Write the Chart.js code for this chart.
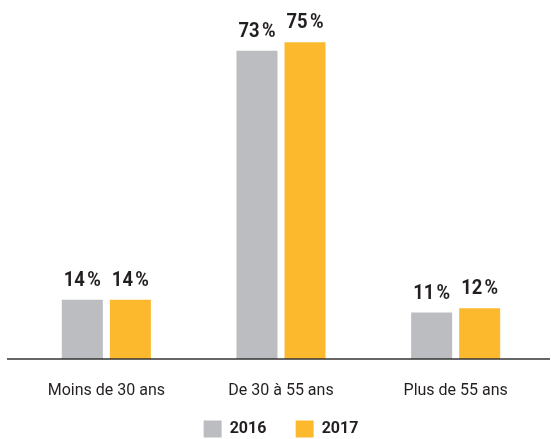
<!DOCTYPE html>
<html>
<head>
<meta charset="utf-8">
<script src="https://cdn.jsdelivr.net/npm/chart.js@4/dist/chart.umd.min.js"></script>
<style>
  html, body { margin: 0; padding: 0; background: #fff; }
  #wrap { width: 551px; height: 439px; }
</style>
</head>
<body>
<div id="wrap"><canvas id="chart" width="551" height="439"></canvas></div>
<script>
  const categories = ['Moins de 30 ans', 'De 30 à 55 ans', 'Plus de 55 ans'];
  const values2016 = [14, 73, 11];
  const values2017 = [14, 75, 12];
  const seriesNames = ['2016', '2017'];

  const textColor = '#231f20';

  // labels "xx %" above each bar
  const barLabels = {
    id: 'barLabels',
    afterDatasetsDraw(chart) {
      const ctx = chart.ctx;
      ctx.save();
      ctx.fillStyle = textColor;
      ctx.font = 'bold 20px Roboto';
      ctx.textAlign = 'center';
      ctx.textBaseline = 'alphabetic';
      chart.data.datasets.forEach((ds, i) => {
        chart.getDatasetMeta(i).data.forEach((bar, j) => {
          ctx.save();
          ctx.translate(bar.x, bar.y - 14);
          ctx.scale(0.92, 1);
          ctx.fillText(ds.data[j] + '\u202f%', 0, 0);
          ctx.restore();
        });
      });
      ctx.restore();
    }
  };

  // baseline running wider than the plot area
  const baseLine = {
    id: 'baseLine',
    afterDatasetsDraw(chart) {
      const ctx = chart.ctx;
      const y = chart.scales.y.getPixelForValue(0);
      ctx.save();
      ctx.strokeStyle = '#333333';
      ctx.lineWidth = 1.5;
      ctx.beginPath();
      ctx.moveTo(7, y);
      ctx.lineTo(550, y);
      ctx.stroke();
      ctx.restore();
    }
  };

  // shrink the legend box so it sits lower
  const legendFit = {
    id: 'legendFit',
    beforeLayout(chart) {
      const lg = chart.legend;
      if (lg && !lg._patched) {
        const fit = lg.fit;
        lg.fit = function () {
          fit.call(this);
          this.height = 38;
        };
        lg._patched = true;
      }
    }
  };

  new Chart(document.getElementById('chart'), {
    type: 'bar',
    data: {
      labels: categories,
      datasets: [
        { label: seriesNames[0], data: values2016, backgroundColor: '#bcbdc0' },
        { label: seriesNames[1], data: values2017, backgroundColor: '#fdb92e' }
      ]
    },
    options: {
      responsive: false,
      animation: false,
      devicePixelRatio: 1,
      categoryPercentage: 0.55,
      barPercentage: 0.854,
      layout: { padding: { left: 19, right: 8, top: 0, bottom: 0 } },
      scales: {
        x: {
          grid: { display: false },
          border: { display: false },
          ticks: { color: textColor, font: { family: 'Roboto', size: 16 }, padding: 14 },
          afterFit: s => { s.height = 42; }
        },
        y: { display: false, min: 0, max: 85 }
      },
      plugins: {
        legend: {
          position: 'bottom',
          labels: {
            color: textColor,
            font: { family: 'Roboto', size: 16, weight: 'bold' },
            boxWidth: 18,
            boxHeight: 17,
            padding: 19.5,
            // a bit more room between the two entries
            generateLabels: chart => Chart.defaults.plugins.legend.labels.generateLabels(chart)
              .map((l, i) => i === 0 ? { ...l, text: l.text + '\u2002\u200a' } : l)
          }
        },
        tooltip: { enabled: false }
      }
    },
    plugins: [legendFit, barLabels, baseLine]
  });
</script>
</body>
</html>
